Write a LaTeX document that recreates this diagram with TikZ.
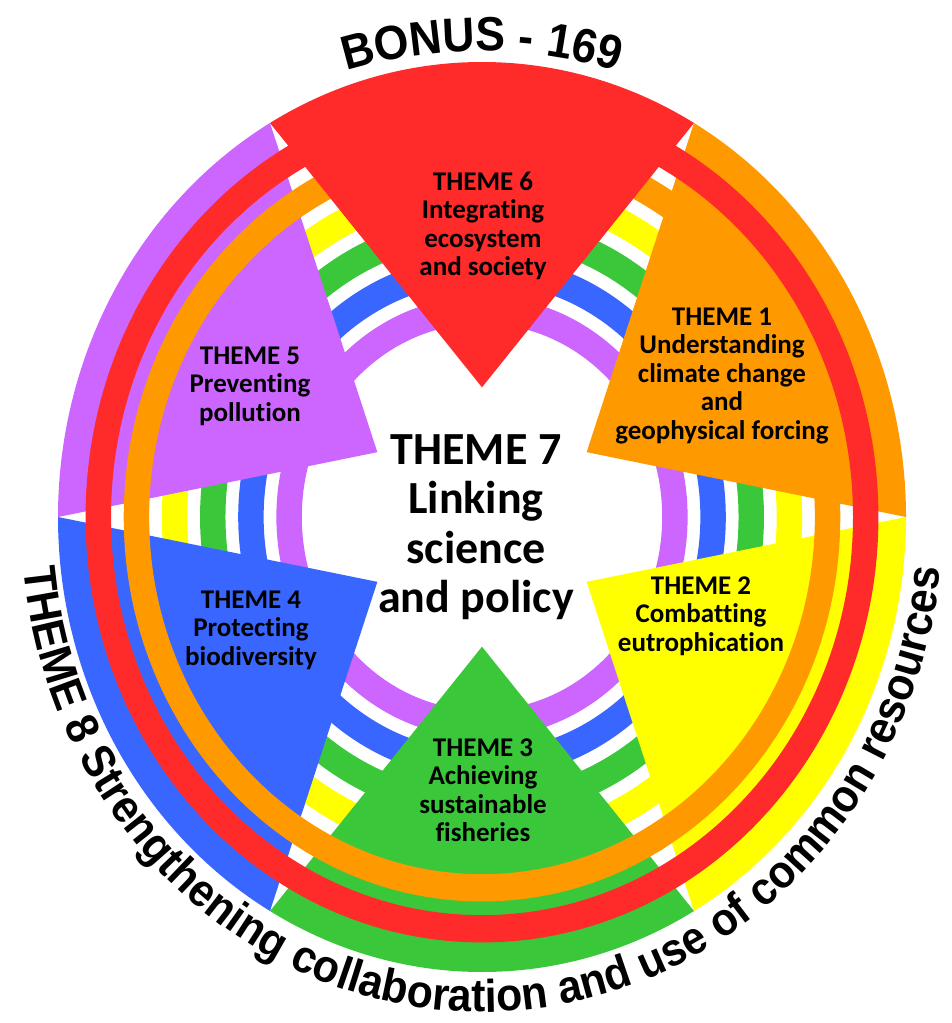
\documentclass[tikz,border=0pt]{standalone}
\usepackage{fontspec}
\setmainfont{Carlito}[Ligatures=CommonOff]
\newfontfamily\arialfont{Liberation Sans}[BoldFeatures={FakeStretch=0.93}]
\usetikzlibrary{decorations.text}
\definecolor{cred}{RGB}{255,42,42}
\definecolor{corange}{RGB}{255,153,0}
\definecolor{cyellow}{RGB}{255,255,0}
\definecolor{cgreen}{RGB}{58,200,58}
\definecolor{cblue}{RGB}{56,102,255}
\definecolor{cpurple}{RGB}{204,102,255}
\begin{document}
\begin{tikzpicture}[x=1pt,y=1pt,
  themetext/.style={font=\bfseries\fontsize{27}{28.5}\selectfont, align=center, text=black, inner sep=0pt},
  bigtext/.style={font=\bfseries\fontsize{46}{49.5}\selectfont, align=center, text=black, inner sep=0pt}]
\useasboundingbox (0,0) rectangle (951,-1023);
\fill[white] (0,0) rectangle (951,-1023);
\begin{scope}[shift={(482pt,-517pt)}, x=424pt, y=455pt]
  % inner concentric bands
  \fill[cpurple, even odd rule] (0,0) circle[radius=0.485] (0,0) circle[radius=0.425];
  \fill[cblue, even odd rule] (0,0) circle[radius=0.575] (0,0) circle[radius=0.515];
  \fill[cgreen, even odd rule] (0,0) circle[radius=0.665] (0,0) circle[radius=0.605];
  \fill[cyellow, even odd rule] (0,0) circle[radius=0.755] (0,0) circle[radius=0.695];
  % theme wedges 1-5
  \foreach \a/\s/\e/\c in {30/0/60/corange, 330/300/360/cyellow, 270/240/300/cgreen, 210/180/240/cblue, 150/120/180/cpurple}{
    \fill[\c] (\a:0.285) -- (\s:1) arc[start angle=\s, end angle=\e, radius=1] -- cycle;
  }
  % outer rings
  \fill[corange, even odd rule] (0,0) circle[radius=0.845] (0,0) circle[radius=0.785];
  \fill[cred, even odd rule] (0,0) circle[radius=0.935] (0,0) circle[radius=0.875];
  % theme 6 wedge on top
  \fill[cred] (90:0.285) -- (60:1) arc[start angle=60, end angle=120, radius=1] -- cycle;
\end{scope}
% labels
\node[themetext] (t6) at (483,-226) {THEME 6\\Integrating\\ecosystem\\and society};
\node[themetext] (t1) at (722,-376) {THEME 1\\Understanding\\climate change\\and\\geophysical forcing};
\node[themetext] (t2) at (701,-616) {THEME 2\\Combatting\\eutrophication};
\node[themetext] (t3) at (483,-790) {THEME 3\\Achieving\\sustainable\\fisheries};
\node[themetext] (t4) at (251,-630) {THEME 4\\Protecting\\biodiversity};
\node[themetext] (t5) at (250,-386) {THEME 5\\Preventing\\pollution};
\node[bigtext] (t7) at (476,-527) {THEME 7\\Linking\\science\\and policy};
% curved titles
\path[decorate, decoration={text along path, text align=center,
  text={|\arialfont\bfseries\fontsize{48}{48}\selectfont|BONUS - 169}}]
  (482,-517) ++(150:466) arc[start angle=150, end angle=30, radius=466];
\path[decorate, decoration={text along path, text align=center,
  text={|\arialfont\bfseries\fontsize{46}{46}\selectfont|THEME 8 Strengthening collaboration and use of common resources}}]
  (482,-517) ++(175:461 and 495) arc[start angle=175, end angle=365, x radius=461, y radius=495];
\end{tikzpicture}
\end{document}
